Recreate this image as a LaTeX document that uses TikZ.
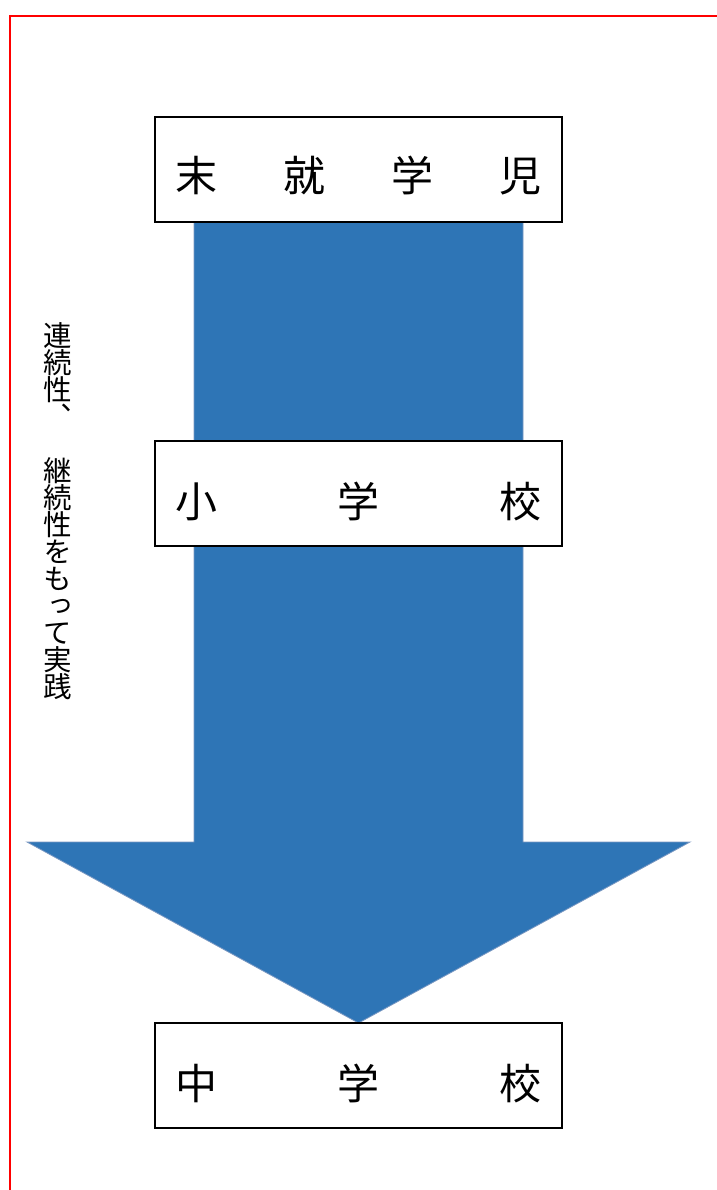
\documentclass[tikz,border=0pt]{standalone}
\usepackage{fontspec}
\newfontfamily\cjk{Noto Sans CJK JP}
\newfontfamily\cjkv[RawFeature=+vert]{Noto Sans CJK JP}
\definecolor{arrowblue}{HTML}{2E75B6}
\definecolor{arrowedge}{HTML}{7A98C2}
\begin{document}
\begin{tikzpicture}[x=1pt,y=-1pt,
  stagebox/.style={draw=black,line width=1.1pt,fill=white},
  stagetext/.style={inner sep=0pt,font=\cjk\fontsize{42}{42}\selectfont},
  sidetext/.style={inner sep=0pt,anchor=north,align=center,
    font={\cjkv\fontsize{28.5}{27}\selectfont\lineskiplimit=-40pt\lineskip=0pt}}]
\useasboundingbox (0,0) rectangle (716,1190);
\fill[white] (0,0) rectangle (716,1190);
% red frame
\draw[red,line width=2pt] (10,1191) -- (10,16) -- (717,16);
% big arrow
\draw[fill=arrowblue,draw=arrowedge,line width=0.8pt]
  (194,222) -- (523,222) -- (523,842) -- (690,842) -- (358.5,1023)
  -- (27,842) -- (194,842) -- cycle;
% boxes
\draw[stagebox] (155,117) rectangle (562,222);
\draw[stagebox] (155,441) rectangle (562,546);
\draw[stagebox] (155,1023) rectangle (562,1128);
\node[stagetext] (t1) at (358.5,176) {\makebox[366pt]{末\hfill 就\hfill 学\hfill 児}};
\node[stagetext] (t2) at (358.5,501) {\makebox[366pt]{小\hfill 学\hfill 校}};
\node[stagetext] (t3) at (358.5,1083) {\makebox[366pt]{中\hfill 学\hfill 校}};
% vertical text
\node[sidetext] (side) at (58,322) {連\\続\\性\\、\\　\\継\\続\\性\\を\\も\\っ\\て\\実\\践};
\end{tikzpicture}
\end{document}
